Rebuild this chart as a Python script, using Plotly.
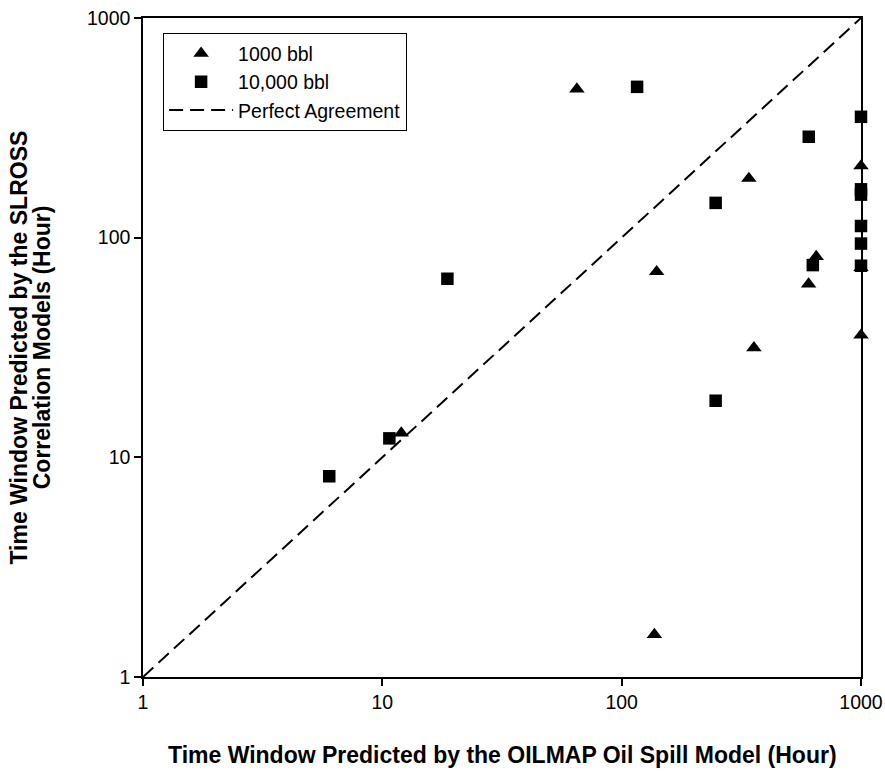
import plotly.graph_objects as go

# OILMAP vs SLROSS predicted time windows (hours)
tri_x = [65, 140, 137, 340, 357, 12, 604, 650, 1000, 1000, 1000]
tri_y = [475, 70, 1.56, 186, 31.5, 12.9, 61.5, 82, 212, 36, 73]

sq_x = [6, 10.7, 18.7, 116, 247, 247, 605, 629, 1000, 1000, 1000, 1000, 1000, 1000]
sq_y = [8.2, 12.2, 65, 486, 144, 18.1, 288, 75, 355, 166, 157, 113, 94, 74.5]

line_x = [1, 1000]
line_y = [1, 1000]

tick_vals = [1, 10, 100, 1000]
tick_text = ["1", "10", "100", "1000"]
# minor ticks at 2..9 within each decade
minor_vals = [m * 10 ** k for k in range(3) for m in range(2, 10)]

FONT = "Arial, 'Liberation Sans', sans-serif"

fig = go.Figure()
fig.add_trace(go.Scatter(
    x=tri_x, y=tri_y, mode="markers", name="1000 bbl",
    marker=dict(symbol="triangle-up", size=13.5, color="black", line=dict(width=0)),
    cliponaxis=False,
))
fig.add_trace(go.Scatter(
    x=sq_x, y=sq_y, mode="markers", name="10,000 bbl",
    marker=dict(symbol="square", size=12.5, color="black", line=dict(width=0)),
    cliponaxis=False,
))
fig.add_trace(go.Scatter(
    x=line_x, y=line_y, mode="lines", name="Perfect Agreement",
    line=dict(color="black", width=2, dash="14px,7px"),
))

# major axes: labelled decades
major_axis = dict(
    type="log", range=[0, 3], automargin=False,
    tickmode="array", tickvals=tick_vals, ticktext=tick_text,
    ticks="outside", ticklen=7, tickwidth=1.5, tickcolor="black",
    showline=True, linecolor="black", linewidth=1.5, mirror=True,
    showgrid=False, zeroline=False,
    tickfont=dict(family=FONT, size=19.5, color="black"),
)
# overlay axes carrying the short unlabelled minor ticks
minor_axis = dict(
    type="log", range=[0, 3], automargin=False,
    tickmode="array", tickvals=minor_vals, showticklabels=False,
    ticks="outside", ticklen=4, tickwidth=1.5, tickcolor="black",
    showline=False, showgrid=False, zeroline=False,
)

fig.update_layout(
    template="none",
    xaxis=dict(**major_axis),
    yaxis=dict(**major_axis),
    xaxis2=dict(**minor_axis, overlaying="x", anchor="y", side="bottom"),
    yaxis2=dict(**minor_axis, overlaying="y", anchor="x", side="left"),
)

TITLE_FONT = dict(family=FONT, size=23, color="black")

fig.add_annotation(
    text="<b>Time Window Predicted by the OILMAP Oil Spill Model (Hour)</b>",
    xref="paper", yref="paper", x=0.5, y=-0.118, yanchor="middle",
    showarrow=False, font=TITLE_FONT,
)
fig.add_annotation(
    text="<b>Time Window Predicted by the SLROSS</b>",
    xref="paper", yref="paper", x=-0.174, y=0.5, xanchor="center", yanchor="middle",
    textangle=-90, showarrow=False, font=TITLE_FONT,
)
fig.add_annotation(
    text="<b>Correlation Models (Hour)</b>",
    xref="paper", yref="paper", x=-0.141, y=0.5, xanchor="center", yanchor="middle",
    textangle=-90, showarrow=False, font=TITLE_FONT,
)

fig.update_layout(
    width=885, height=774,
    margin=dict(l=143, r=24, t=18, b=97, autoexpand=False),
    plot_bgcolor="white", paper_bgcolor="white",
    font=dict(family=FONT, color="black"),
    showlegend=True,
    legend=dict(
        x=0.028, y=0.977, xanchor="left", yanchor="top",
        bordercolor="black", borderwidth=1, bgcolor="white",
        font=dict(family=FONT, size=19.5, color="black"),
        itemwidth=64, tracegroupgap=0,
    ),
)

fig.write_html("out.html")
